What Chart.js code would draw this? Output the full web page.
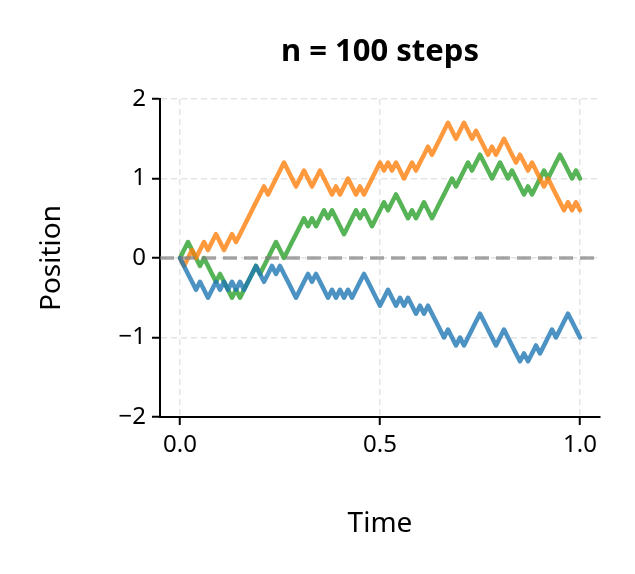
<!DOCTYPE html>
<html><head><meta charset="utf-8">
<script src="https://cdn.jsdelivr.net/npm/chart.js@4"></script>
<style>html,body{margin:0;padding:0;background:#fff}#w{width:635px;height:574px}</style>
</head><body><div id="w"><canvas id="c"></canvas></div>
<script>
const nSteps = 100;
const stepSize = 0.1;
const blueSteps = "----+--"+"++"+"-+-+-+-"+"+++"+"--"+"++"+"-+"+"----"+"+++"+"-+"+"---"+"+-+-+-"+"+++"+"----"+"++"+"--"+"+-+"+"--"+"+-+"+"----"+"+"+"--"+"+-"+"++++"+"----"+"++"+"----"+"+-"+"++"+"-"+"+++"+"-"+"+++"+"---";
const orangeSteps = "-"+"++-++"+"-"+"++"+"--"+"++"+"-"+"+++++++"+"-"+"++++"+"---"+"++"+"--"+"++"+"---"+"+"+"-"+"++"+"--"+"+"+"-"+"++++"+"-"+"+"+"-"+"+"+"--"+"++"+"-"+"+++"+"-"+"++++"+"--"+"++"+"--"+"+"+"---"+"+"+"-"+"++"+"---"+"+"+"--"+"+"+"---"+"+"+"----"+"+"+"-"+"+"+"-";
const greenSteps = "++"+"---"+"+"+"---"+"+"+"---"+"+"+"-"+"++++"+"-"+"++++"+"--"+"+++++"+"-"+"+"+"-"+"++"+"-"+"+"+"---"+"+++"+"-"+"+"+"--"+"+++"+"-"+"++"+"---"+"+"+"-"+"++"+"--"+"+++++"+"-"+"+++"+"-"+"++"+"---"+"++"+"--"+"+"+"---"+"+"+"-"+"+++"+"-"+"+++"+"---"+"+"+"-";
const xTicks = [0, 0.5, 1.0];
const yTicks = [-2, -1, 0, 1, 2];
const titleText = 'n = 100 steps';

function walk(s){const pts=[{x:0,y:0}];let v=0;for(let i=0;i<s.length;i++){v+=s[i]==='+'?1:-1;pts.push({x:(i+1)/nSteps,y:Math.round(v)*stepSize});}return pts;}
const F="'Noto Sans', sans-serif";
const ds=(d,c)=>({data:d,borderColor:c,borderWidth:4.5,pointRadius:0,tension:0,borderJoinStyle:'round',borderCapStyle:'round'});
const titlePlugin={id:'tp',afterDraw(ch){const c=ch.ctx,a=ch.chartArea;c.save();c.font="bold 31px "+F;c.fillStyle='#000';c.textAlign='center';c.textBaseline='middle';c.fillText(titleText,(a.left+a.right)/2,52);c.restore();}};
new Chart(document.getElementById('c'),{type:'line',
data:{datasets:[
 {data:[{x:-0.05,y:0},{x:1.05,y:0}],borderColor:'rgba(128,128,128,0.7)',borderWidth:3.5,borderDash:[14,7],pointRadius:0},
 ds(walk(blueSteps),'rgba(31,119,180,0.8)'),
 ds(walk(orangeSteps),'rgba(255,127,14,0.8)'),
 ds(walk(greenSteps),'rgba(44,160,44,0.8)')
]},
plugins:[titlePlugin],
options:{responsive:true,maintainAspectRatio:false,animation:false,
 layout:{padding:{left:0,right:35,top:99,bottom:0}},
 plugins:{legend:{display:false},tooltip:{enabled:false},title:{display:false}},
 scales:{
  x:{type:'linear',min:-0.05,max:1.05,
   afterBuildTicks:s=>{s.ticks=xTicks.map(v=>({value:v}));},
   afterFit:s=>{s.height=157;},
   ticks:{color:'#000',font:{family:F,size:24},padding:6,callback:v=>v.toFixed(1)},
   grid:{color:'rgba(200,200,200,0.5)',lineWidth:1.5,tickBorderDash:[],tickColor:'#000',tickWidth:2,tickLength:8},
   border:{display:true,color:'#000',width:2,dash:[6,4]},
   title:{display:true,text:'Time',color:'#000',font:{family:F,size:28},padding:{top:4,bottom:33}}},
  y:{type:'linear',min:-2,max:2,
   afterBuildTicks:s=>{s.ticks=yTicks.map(v=>({value:v}));},
   afterFit:s=>{s.width=160;},
   ticks:{color:'#000',font:{family:F,size:24},padding:6,callback:v=>String(v).replace('-','\u2212')},
   grid:{color:'rgba(200,200,200,0.5)',lineWidth:1.5,tickBorderDash:[],tickColor:'#000',tickWidth:2,tickLength:8},
   border:{display:true,color:'#000',width:2,dash:[6,4]},
   title:{display:true,text:'Position',color:'#000',font:{family:F,size:28},padding:{top:35,bottom:4}}}
 }}});
</script></body></html>
